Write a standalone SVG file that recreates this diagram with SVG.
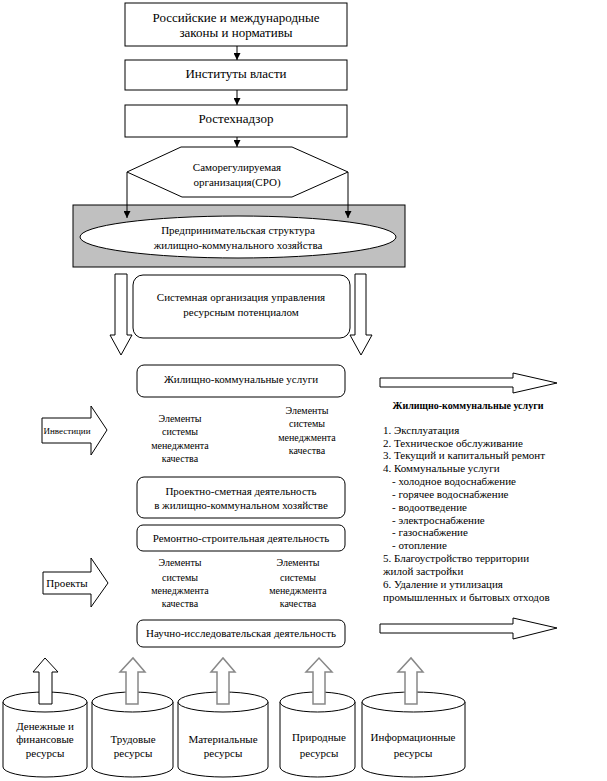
<svg xmlns="http://www.w3.org/2000/svg" width="607" height="781" viewBox="0 0 607 781">
<defs>
<marker id="ah" viewBox="0 0 10 10" refX="10" refY="5" markerWidth="7" markerHeight="7" markerUnits="userSpaceOnUse" orient="auto">
<path d="M0,0 L10,5 L0,10 Z" fill="#000"/>
</marker>
</defs>
<style>
text{font-family:'Liberation Serif','Times New Roman',serif;fill:#000}
.b{fill:#fff;stroke:#000;stroke-width:1}
.t13{font-size:13px;text-anchor:middle}
.t11{font-size:11px;text-anchor:middle}
.t10{font-size:10px;text-anchor:middle}
.t9{font-size:9px;text-anchor:middle}
.l11{font-size:11px}
.bold{font-size:10px;font-weight:bold;text-anchor:middle}
.ln{fill:none;stroke:#000;stroke-width:1}
.ha{fill:#fff;stroke:#000;stroke-width:1}
.ga{fill:#fff;stroke:#888;stroke-width:1.5}
</style>
<g id="connectors">
<line class="ln" x1="237" y1="46" x2="237" y2="60" marker-end="url(#ah)"/>
<line class="ln" x1="237" y1="90" x2="237" y2="105" marker-end="url(#ah)"/>
<line class="ln" x1="237" y1="137" x2="237" y2="147" marker-end="url(#ah)"/>
</g>
<g id="n1"><rect class="b" x="125" y="3" width="222" height="43"/>
<text class="t13" x="236" y="21.5">Российские и международные</text>
<text class="t13" x="236" y="36.5">законы и нормативы</text></g>
<g id="n2"><rect class="b" x="125" y="60" width="222" height="30"/>
<text class="t13" x="236" y="77.5">Институты власти</text></g>
<g id="n3"><rect class="b" x="125" y="105" width="222" height="32"/>
<text class="t13" x="236" y="122.5">Ростехнадзор</text></g>
<g id="band"><rect x="73" y="205" width="332" height="62" fill="#c0c0c0" stroke="#000"/></g>
<g id="n4"><polygon class="b" points="181,147 292,147 348,172 292,197 182,197 127,172"/>
<text class="t11" x="237" y="171">Саморегулируемая</text>
<text class="t11" x="237" y="186">организация(СРО)</text></g>
<g id="connectors2">
<line class="ln" x1="127" y1="172" x2="127" y2="218" marker-end="url(#ah)"/>
<line class="ln" x1="348" y1="172" x2="348" y2="218" marker-end="url(#ah)"/>
</g>
<g id="n5"><ellipse class="b" cx="238" cy="237" rx="158" ry="21"/>
<text class="t11" x="238" y="234">Предпринимательская структура</text>
<text class="t11" x="238" y="249">жилищно-коммунального хозяйства</text></g>
<g id="downarrows">
<polygon class="ha" points="115,274 127,274 127,335 132,335 121,355 110,335 115,335"/>
<polygon class="ha" points="355,274 366,274 366,335 372,335 361,355 350,335 355,335"/>
</g>
<g id="n6"><rect class="b" x="133" y="275" width="217" height="63" rx="10"/>
<text class="t11" x="241" y="301">Системная организация управления</text>
<text class="t11" x="241" y="316">ресурсным потенциалом</text></g>
<g id="n7"><rect class="b" x="137" y="365" width="208" height="32" rx="7"/>
<text class="t11" x="241" y="383">Жилищно-коммунальные услуги</text></g>
<g id="n8"><polygon class="ha" points="42,418 91,418 91,406 107,430 91,455 91,443 42,443"/>
<text class="t9" x="67" y="434">Инвестиции</text></g>
<g id="e1">
<text class="t10" x="180" y="421.5">Элементы</text>
<text class="t10" x="180" y="435">системы</text>
<text class="t10" x="180" y="448.5">менеджмента</text>
<text class="t10" x="180" y="461.5">качества</text></g>
<g id="e2">
<text class="t10" x="307" y="413.5">Элементы</text>
<text class="t10" x="307" y="426.5">системы</text>
<text class="t10" x="307" y="440.5">менеджмента</text>
<text class="t10" x="307" y="453.5">качества</text></g>
<g id="n9"><rect class="b" x="137" y="477" width="208" height="41" rx="7"/>
<text class="t11" x="241" y="495">Проектно-сметная деятельность</text>
<text class="t11" x="241" y="509">в жилищно-коммунальном хозяйстве</text></g>
<g id="n10"><rect class="b" x="137" y="525" width="208" height="26" rx="6"/>
<text class="t11" x="241" y="542">Ремонтно-строительная деятельность</text></g>
<g id="n11"><polygon class="ha" points="43,572 91,572 91,558 108,583 91,607 91,594 43,594"/>
<text class="t11" x="67" y="587">Проекты</text></g>
<g id="e3">
<text class="t10" x="180" y="565.5">Элементы</text>
<text class="t10" x="180" y="580.5">системы</text>
<text class="t10" x="180" y="593.5">менеджмента</text>
<text class="t10" x="180" y="606.5">качества</text></g>
<g id="e4">
<text class="t10" x="298" y="565.5">Элементы</text>
<text class="t10" x="298" y="580.5">системы</text>
<text class="t10" x="298" y="593.5">менеджмента</text>
<text class="t10" x="298" y="606.5">качества</text></g>
<g id="n12"><rect class="b" x="137" y="620" width="208" height="27" rx="6"/>
<text class="t11" x="241" y="637">Научно-исследовательская деятельность</text></g>
<g id="rarrows">
<polygon class="ha" points="380,378 513,378 513,373 557,383 513,393 513,387 380,387"/>
<polygon class="ha" points="380,624 513,624 513,618 557,628 513,639 513,633 380,633"/>
</g>
<g id="list">
<text class="bold" x="468" y="409">Жилищно-коммунальные услуги</text>
<text class="l11" x="383" y="434">1. Эксплуатация</text>
<text class="l11" x="383" y="446.5">2. Техническое обслуживание</text>
<text class="l11" x="383" y="459">3. Текущий и капитальный ремонт</text>
<text class="l11" x="383" y="471.5">4. Коммунальные услуги</text>
<text class="l11" x="392" y="484.5">- холодное водоснабжение</text>
<text class="l11" x="392" y="497.5">- горячее водоснабжение</text>
<text class="l11" x="392" y="510.5">- водоотведение</text>
<text class="l11" x="392" y="523.5">- электроснабжение</text>
<text class="l11" x="392" y="536">- газоснабжение</text>
<text class="l11" x="392" y="549">- отопление</text>
<text class="l11" x="383" y="562">5. Благоустройство территории</text>
<text class="l11" x="383" y="575">жилой застройки</text>
<text class="l11" x="383" y="588">6. Удаление и утилизация</text>
<text class="l11" x="383" y="601">промышленных и бытовых отходов</text>
</g>
<g id="c1"><path class="b" d="M3,702 V767 A42,10 0 0 0 87,767 V702"/><ellipse class="b" cx="45" cy="702" rx="42" ry="10"/>
<polygon class="ha" points="39,704 39,672 33,672 45,658 58,672 52,672 52,704"/>
<text class="t11" x="45" y="730">Денежные и</text>
<text class="t11" x="45" y="743">финансовые</text>
<text class="t11" x="45" y="757">ресурсы</text></g>
<g id="c2"><path class="b" d="M92,702 V767 A40.5,10 0 0 0 173,767 V702"/><ellipse class="b" cx="132.5" cy="702" rx="40.5" ry="10"/>
<polygon class="ga" points="126,704 126,672 120,672 133,658 145,672 138,672 138,704"/>
<text class="t11" x="133" y="743">Трудовые</text>
<text class="t11" x="133" y="757">ресурсы</text></g>
<g id="c3"><path class="b" d="M178,702 V767 A45,10 0 0 0 268,767 V702"/><ellipse class="b" cx="223" cy="702" rx="45" ry="10"/>
<polygon class="ga" points="217,704 217,672 211,672 223,658 235,672 229,672 229,704"/>
<text class="t11" x="223" y="743">Материальные</text>
<text class="t11" x="223" y="757">ресурсы</text></g>
<g id="c4"><path class="b" d="M280,702 V767 A37.5,10 0 0 0 355,767 V702"/><ellipse class="b" cx="317.5" cy="702" rx="37.5" ry="10"/>
<polygon class="ga" points="313,704 313,672 306,672 319,658 332,672 325,672 325,704"/>
<text class="t11" x="319" y="741">Природные</text>
<text class="t11" x="319" y="757">ресурсы</text></g>
<g id="c5"><path class="b" d="M362,702 V767 A51.5,10 0 0 0 465,767 V702"/><ellipse class="b" cx="413.5" cy="702" rx="51.5" ry="10"/>
<polygon class="ga" points="405,704 405,672 398,672 411,658 423,672 417,672 417,704"/>
<text class="t11" x="413" y="741">Информационные</text>
<text class="t11" x="413" y="757">ресурсы</text></g>
</svg>
